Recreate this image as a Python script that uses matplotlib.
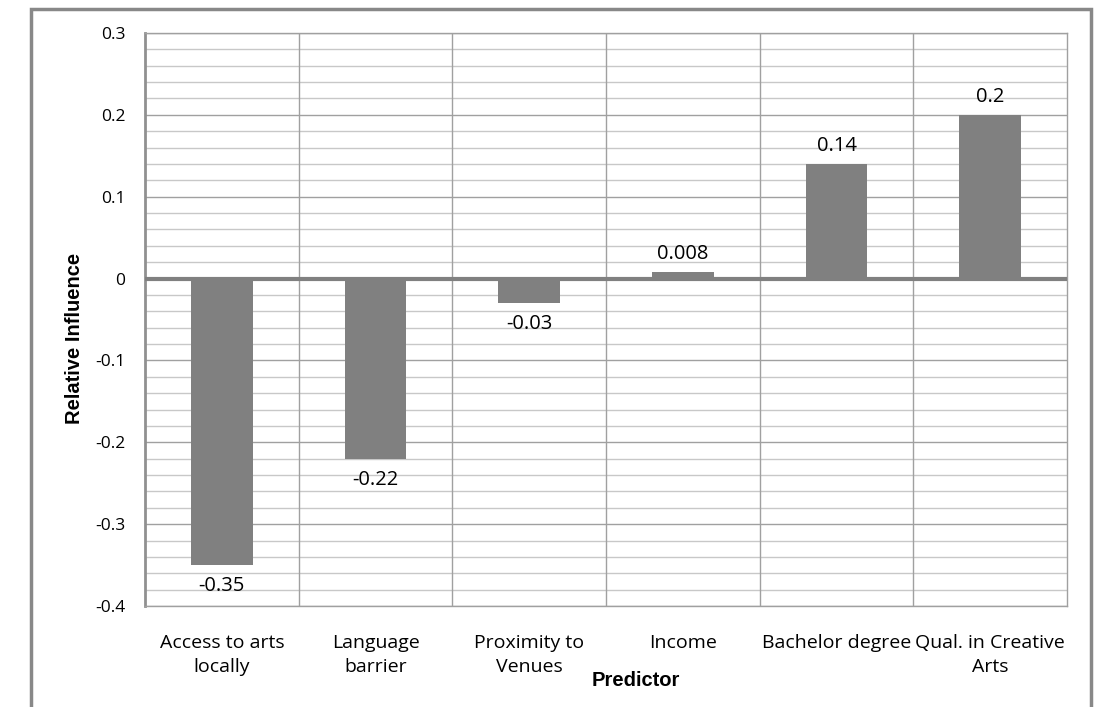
import matplotlib.pyplot as plt
from matplotlib.patches import Rectangle
import numpy as np

categories = ["Access to arts\nlocally", "Language\nbarrier", "Proximity to\nVenues",
              "Income", "Bachelor degree", "Qual. in Creative\nArts"]
values = [-0.35, -0.22, -0.03, 0.008, 0.14, 0.2]
value_labels = ["-0.35", "-0.22", "-0.03", "0.008", "0.14", "0.2"]
yticks = [-0.4, -0.3, -0.2, -0.1, 0, 0.1, 0.2, 0.3]
ytick_labels = ["-0.4", "-0.3", "-0.2", "-0.1", "0", "0.1", "0.2", "0.3"]

plt.rcParams['font.family'] = ['Open Sans', 'DejaVu Sans']

fig = plt.figure(figsize=(11, 7.07), dpi=100)
ax = fig.add_axes([145 / 1100, 1 - 606 / 707, (1067 - 145) / 1100, (606 - 33) / 707])

# outer frame of the chart, cut off at the bottom
fig.patches.append(Rectangle((31 / 1100, -0.05), (1091 - 31) / 1100, 1.05 - 9 / 707,
                             transform=fig.transFigure, fill=False,
                             edgecolor='#888888', linewidth=2.5))

n = len(categories)
x = np.arange(n)
ax.set_xlim(-0.5, n - 0.5)
ax.set_ylim(-0.4, 0.3)

# minor grid every 0.02, major every 0.1
for y in np.arange(-0.38, 0.3, 0.02):
    if abs(round(y * 50) % 5) == 0:
        continue
    ax.axhline(y, color='#c8c8c8', linewidth=1.0, zorder=0)
for y in yticks:
    ax.axhline(y, color='#a0a0a0', linewidth=1.0, zorder=0)
for xb in np.arange(0.5, n - 0.5, 1):
    ax.axvline(xb, color='#a0a0a0', linewidth=1.0, zorder=0)

ax.bar(x, values, width=0.4, color='#808080', zorder=2)
ax.axhline(0, color='#808080', linewidth=3, zorder=3)

for xi, v, lab in zip(x, values, value_labels):
    if v >= 0:
        ax.annotate(lab, (xi, v), xytext=(0, 6), textcoords='offset points',
                    ha='center', va='bottom', fontsize=14.5)
    else:
        ax.annotate(lab, (xi, v), xytext=(0, -8), textcoords='offset points',
                    ha='center', va='top', fontsize=14.5)

ax.set_yticks(yticks)
ax.set_yticklabels(ytick_labels, fontsize=12.5)
ax.set_xticks(x)
ax.set_xticklabels(categories, fontsize=14, linespacing=1.45)
ax.tick_params(axis='both', length=0)
ax.tick_params(axis='y', pad=14)
ax.tick_params(axis='x', pad=20)

for side in ['top', 'right', 'bottom']:
    ax.spines[side].set_color('#a0a0a0')
    ax.spines[side].set_linewidth(1.0)
ax.spines['left'].set_color('#909090')
ax.spines['left'].set_linewidth(2)

fig.text(75 / 1100, 1 - 338 / 707, 'Relative Influence', fontsize=14.5, fontweight='bold',
         family=['Liberation Sans', 'DejaVu Sans'], ha='center', va='center', rotation=90)
fig.text(636 / 1100, 1 - 681 / 707, 'Predictor', fontsize=14.5, fontweight='bold',
         family=['Liberation Sans', 'DejaVu Sans'], ha='center', va='center')

fig.savefig('out.png', dpi=100)
